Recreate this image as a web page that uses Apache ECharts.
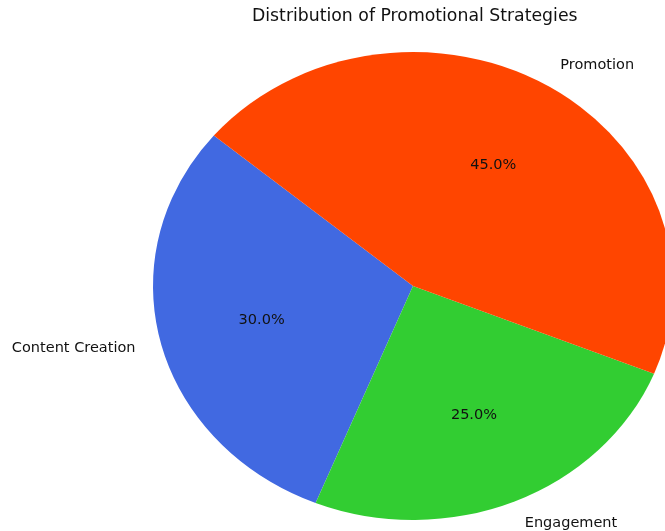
<!DOCTYPE html>
<html>
<head>
<meta charset="utf-8">
<script src="https://cdn.jsdelivr.net/npm/echarts@6/dist/echarts.min.js"></script>
<style>
  html, body { margin: 0; padding: 0; background: #fff; }
  #chart { width: 665px; height: 531px; }
</style>
</head>
<body>
<div id="chart"></div>
<script>
const categories = ["Content Creation", "Engagement", "Promotion"];
const shares = [30, 25, 45];
const colors = ["#4169E1", "#32CD32", "#FF4500"];

// matplotlib style: counterclockwise from startAngle, pie drawn as an ellipse
const startAngle = 140;
const center = [413, 286];
const radiusX = 260;
const radiusY = 234;

const total = shares.reduce((a, b) => a + b, 0);
const toRad = Math.PI / 180;
const font = '"DejaVu Sans", sans-serif';

const chart = echarts.init(document.getElementById("chart"));

function renderSlice(params, api) {
  const i = params.dataIndex;
  let before = 0;
  for (let k = 0; k < i; k++) before += shares[k];
  const a0 = (startAngle + (before / total) * 360) * toRad;
  const a1 = (startAngle + ((before + api.value(0)) / total) * 360) * toRad;
  const mid = (a0 + a1) / 2;
  const cos = Math.cos(mid);
  const sin = Math.sin(mid);

  return {
    type: "group",
    children: [
      {
        type: "sector",
        x: center[0],
        y: center[1],
        scaleY: radiusY / radiusX,
        shape: { cx: 0, cy: 0, r0: 0, r: radiusX, startAngle: -a1, endAngle: -a0, clockwise: true },
        style: { fill: colors[i] },
      },
      {
        type: "text",
        style: {
          text: categories[i],
          x: center[0] + 1.1 * radiusX * cos,
          y: center[1] - 1.1 * radiusY * sin,
          align: cos > 0 ? "left" : "right",
          verticalAlign: "middle",
          fill: "#111",
          fontSize: 14.5,
          fontFamily: font,
        },
      },
      {
        type: "text",
        style: {
          text: ((api.value(0) / total) * 100).toFixed(1) + "%",
          x: center[0] + 0.6 * radiusX * cos,
          y: center[1] - 0.6 * radiusY * sin,
          align: "center",
          verticalAlign: "middle",
          fill: "#111",
          fontSize: 14.5,
          fontFamily: font,
        },
      },
    ],
  };
}

const option = {
  animation: false,
  title: {
    text: "Distribution of Promotional Strategies",
    left: 247,
    top: 3,
    textStyle: { fontSize: 17.3, fontWeight: "normal", color: "#111", fontFamily: font },
  },
  series: [
    {
      type: "custom",
      coordinateSystem: "none",
      renderItem: renderSlice,
      data: shares,
    },
  ],
};

chart.setOption(option);
</script>
</body>
</html>
